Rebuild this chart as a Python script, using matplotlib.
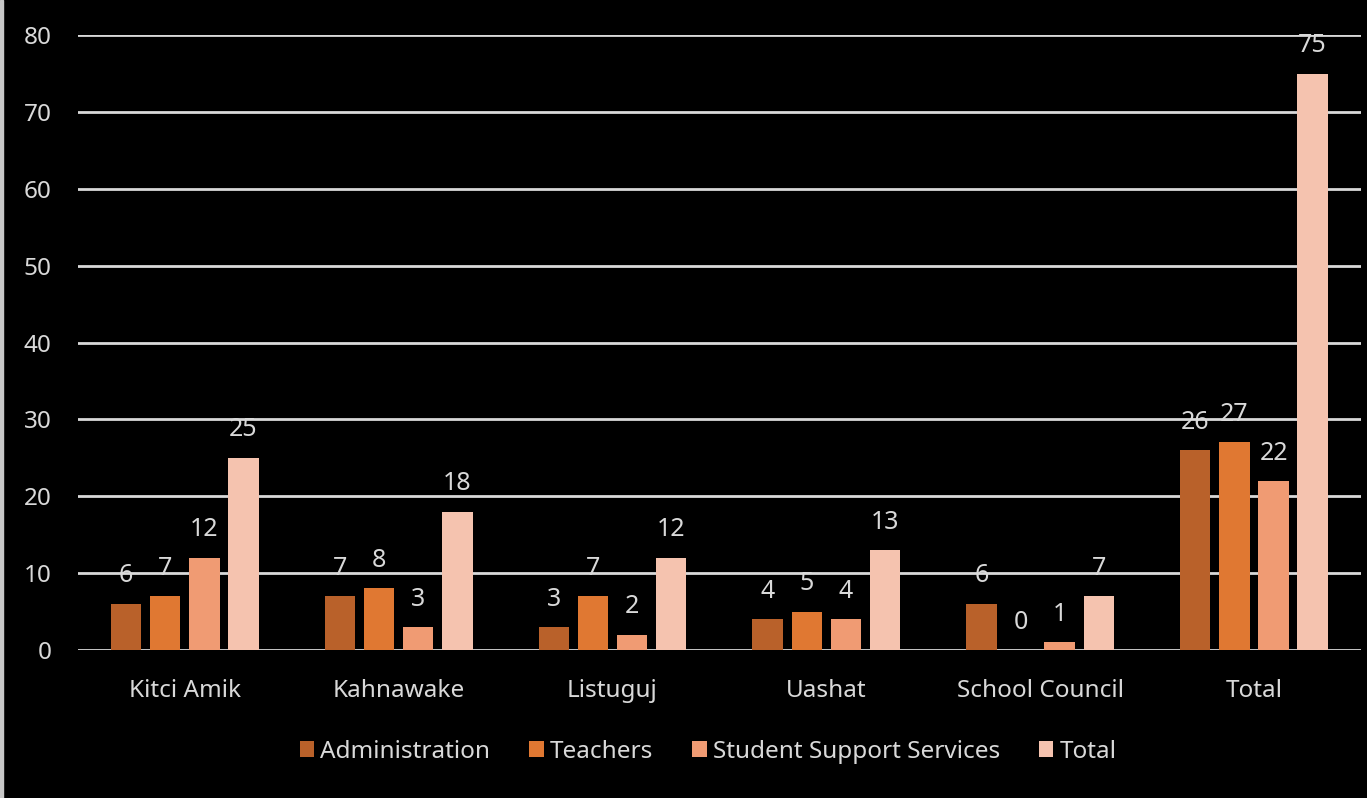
import numpy as np
import matplotlib.pyplot as plt
from matplotlib.patches import Rectangle

# categories and series
sites = ['Kitci Amik', 'Kahnawake', 'Listuguj', 'Uashat', 'School Council', 'Total']
admin = [6, 7, 3, 4, 6, 26]
teachers = [7, 8, 7, 5, 0, 27]
support = [12, 3, 2, 4, 1, 22]
total = [25, 18, 12, 13, 7, 75]

series_names = ['Administration', 'Teachers', 'Student Support Services', 'Total']
series = [admin, teachers, support, total]
colors = ['#B9612A', '#E07832', '#F09B73', '#F5C3AF']

txt = '#D9D9D9'
fs = 17.5
plt.rcParams['font.family'] = ['Noto Sans', 'DejaVu Sans']

fig = plt.figure(figsize=(13.67, 7.98), dpi=100, facecolor='black')
ax = fig.add_axes([0.057, 0.1855, 0.9385, 0.7705])
ax.set_facecolor('black')

x = np.arange(len(sites))
step = 0.183
width = 0.142
for k, (name, vals, col) in enumerate(zip(series_names, series, colors)):
    pos = x + (k - 1.5) * step
    ax.bar(pos, vals, width, color=col, label=name, zorder=3)
    for p, v in zip(pos, vals):
        ax.text(p, v + 2.0, str(v), ha='center', va='bottom',
                color=txt, fontsize=18, zorder=4)

ax.set_xlim(-0.5, 5.5)
ax.set_ylim(0, 80)
ax.set_yticks(range(0, 81, 10))
ax.set_xticks(x)
ax.set_xticklabels(sites)
ax.yaxis.grid(True, color=txt, linewidth=2, zorder=0)
ax.tick_params(axis='both', length=0, colors=txt, labelsize=fs)
ax.tick_params(axis='y', pad=19)
ax.tick_params(axis='x', pad=21)
for s in ax.spines.values():
    s.set_visible(False)

leg = fig.legend(loc='center', bbox_to_anchor=(0.518, 0.058), ncol=4,
                 frameon=False, fontsize=fs, handlelength=0.6,
                 handleheight=0.6, handletextpad=0.25, columnspacing=1.6)
for t in leg.get_texts():
    t.set_color(txt)

# thin light strip on the left edge of the picture
fig.patches.append(Rectangle((0, 0), 3 / 1367, 1, transform=fig.transFigure,
                             color='#C8C8C8', zorder=10))

fig.savefig('out.png', dpi=100, facecolor='black')
